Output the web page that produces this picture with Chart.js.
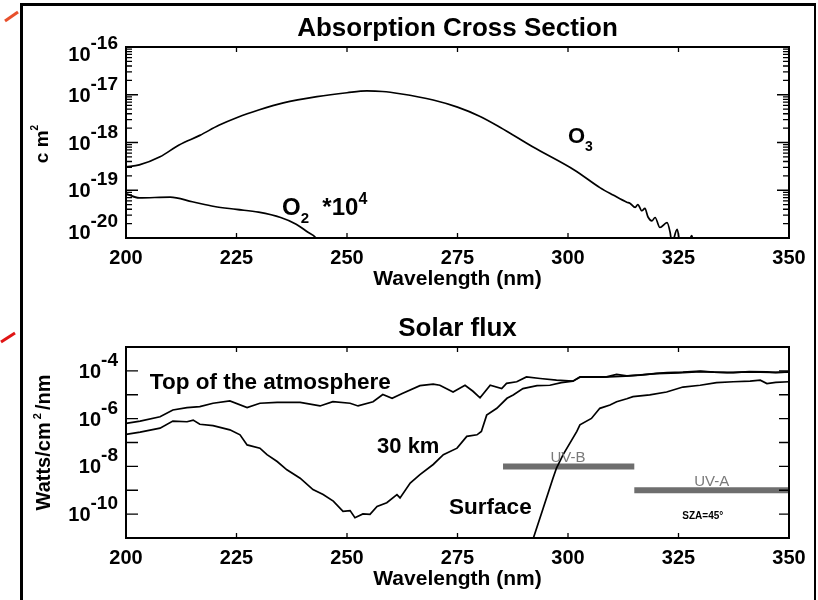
<!DOCTYPE html>
<html lang="en">
<head>
<meta charset="UTF-8">
<title>Absorption Cross Section / Solar flux</title>
<script src="https://cdn.jsdelivr.net/npm/chart.js@4.4.1/dist/chart.umd.min.js"></script>
<style>
    body {
        margin: 0;
        width: 818px;
        height: 600px;
        overflow: hidden;
        position: relative;
        background: #fff;
    }
    .panel {
        position: absolute;
        left: 0;
        width: 818px;
        height: 300px;
    }
    #topPanel { top: 0; }
    #bottomPanel { top: 300px; }
    /* black frame around the figure */
    .frame {
        position: absolute;
        left: 20px;
        top: 3px;
        width: 791px;
        height: 620px;
        border-left: 3px solid #000;
        border-top: 3px solid #000;
        border-right: 2px solid #000;
    }
    svg.marks { position: absolute; left: 0; top: 0; }
</style>
</head>
<body>
<div class="frame"></div>
<svg class="marks" width="30" height="360">
    <line x1="5" y1="21" x2="18" y2="12" stroke="#e8502c" stroke-width="3"/>
    <line x1="1" y1="342" x2="15" y2="333" stroke="#e01515" stroke-width="3"/>
</svg>
<div class="panel" id="topPanel"><canvas id="absChart" width="818" height="300"></canvas></div>
<div class="panel" id="bottomPanel"><canvas id="fluxChart" width="818" height="300"></canvas></div>

<script>
// ---- Absorption cross section (cm^2) ----
const o3Wavelength = [200, 203, 207.7, 212, 216.7, 221, 225.3, 230, 235.6, 243.2, 250, 254.5, 258, 262, 269.5,
    275, 280, 284.6, 292, 301.5, 307.3, 310.2, 313.3, 314.0, 315.2, 315.8, 316.7, 317.4, 318.1, 319.0,
    319.7, 320.8, 322.4, 323.1, 323.5, 324.7, 325.3, 326.5, 328.0, 328.8, 330];
const o3Cross = [3.09e-19, 3.39e-19, 5.01e-19, 8.9e-19, 1.41e-18, 2.29e-18, 3.39e-18, 4.79e-18, 6.76e-18, 9.12e-18,
    1.10e-17, 1.20e-17, 1.17e-17, 1.05e-17, 7.76e-18, 5.50e-18, 3.55e-18, 2.09e-18, 8.13e-19, 2.63e-19,
    1.12e-19, 7.94e-20, 5.62e-20, 5.37e-20, 4.37e-20, 5.01e-20, 3.72e-20, 4.17e-20, 2.75e-20, 2.29e-20,
    2.69e-20, 1.66e-20, 2.09e-20, 1.32e-20, 7.9e-21, 1.51e-20, 7.9e-21, 5.0e-21, 1.12e-20, 5.0e-21, 2.5e-21];

const o2Wavelength = [200, 203, 210, 215, 220, 225, 230, 235, 238.5, 241, 243, 244];
const o2Cross = [8.5e-20, 6.9e-20, 7.2e-20, 5.75e-20, 4.57e-20, 3.98e-20, 3.47e-20, 2.69e-20, 1.95e-20, 1.35e-20, 1.0e-20, 7e-21];

// ---- Solar flux (Watts/cm2/nm) ----
const toaWavelength = [200, 203.2, 207.7, 210.6, 213.8, 216.7, 219.7, 223.5, 227.4, 230.3,
    234.2, 239.4, 243.9, 246.8, 250.7, 252.5, 255.9, 258.1, 260.2, 262.5,
    266.5, 269.5, 271, 274, 276.7, 278.5, 280.1, 282.4, 285, 286.1,
    288.4, 290.6, 293.7, 297.4, 301.1, 302.7, 308.7, 311, 313.3, 316.3,
    320, 322.4, 326, 329.9, 333, 337.4, 341, 345, 347, 350];
const toaFlux = [6.3e-7, 7.9e-7, 1.2e-6, 2.3e-6, 2.9e-6, 3.2e-6, 4.4e-6, 5.5e-6, 2.9e-6, 4.4e-6,
    4.8e-6, 4.8e-6, 3.4e-6, 5.1e-6, 4.4e-6, 3.4e-6, 5.1e-6, 1.02e-5, 7.1e-6, 1.12e-5,
    2.4e-5, 2.8e-5, 2.5e-5, 1.3e-5, 2.5e-5, 1.4e-5, 7.4e-6, 2.5e-5, 1.8e-5, 3.0e-5,
    3.5e-5, 5.6e-5, 4.8e-5, 4.1e-5, 3.7e-5, 5.6e-5, 5.6e-5, 7.1e-5, 6.2e-5, 6.6e-5,
    7.9e-5, 8.5e-5, 8.9e-5, 9.8e-5, 8.9e-5, 8.5e-5, 9.3e-5, 9.1e-5, 8.5e-5, 9.1e-5];

const km30Wavelength = [200, 203.2, 207.7, 210.6, 213.8, 215.2, 216.7, 219.7, 223.5, 225.8,
    227.4, 230.3, 231.9, 234.2, 236.4, 239.4, 242.3, 244.6, 246.9, 249.1,
    250.7, 251.8, 253.6, 255.2, 256.8, 259, 261.3, 262, 264.3, 266.5,
    269.5, 271.8, 274.9, 277.1, 279.4, 280.4, 281.6, 283.9, 286.2, 287.6,
    289.8, 293, 295.9, 298.5, 301.1, 302.7, 308, 313, 320, 325,
    330, 336, 341, 346, 350];
const km30Flux = [2.2e-7, 2.7e-7, 4.0e-7, 7.9e-7, 7.4e-7, 8.7e-7, 5.8e-7, 5.1e-7, 3.4e-7, 2.1e-7,
    7.9e-8, 5.8e-8, 3.1e-8, 1.6e-8, 7.2e-9, 3.2e-9, 1.07e-9, 6.6e-10, 3.5e-10, 1.3e-10,
    1.4e-10, 7.1e-11, 1.02e-10, 9.8e-11, 2.1e-10, 3.0e-10, 6.6e-10, 4.8e-10, 2.0e-9, 4.5e-9,
    1.2e-8, 3.1e-8, 5.8e-8, 1.8e-7, 2.1e-7, 2.9e-7, 1.4e-6, 2.7e-6, 7.1e-6, 9.8e-6,
    1.8e-5, 2.4e-5, 2.5e-5, 3.2e-5, 3.7e-5, 5.4e-5, 5.5e-5, 6.0e-5, 7.6e-5, 8.3e-5,
    9.3e-5, 8.5e-5, 9.1e-5, 8.7e-5, 8.9e-5];

const sfcWavelength = [291.5, 292.1, 294.4, 296.6, 297.4, 298.9, 302, 302.7, 305.3, 307.2,
    309.5, 311, 313.3, 314.7, 318.5, 322.3, 326, 329.9, 333.6, 337.4,
    341.2, 343.5, 345, 347, 350];
const sfcFlux = [1e-12, 9.1e-12, 1.8e-10, 3.2e-9, 8.5e-9, 3.1e-8, 2.9e-7, 5.5e-7, 1.02e-6, 2.7e-6,
    3.7e-6, 5.1e-6, 6.8e-6, 8.3e-6, 9.8e-6, 1.3e-5, 2.1e-5, 2.5e-5, 3.2e-5, 3.5e-5,
    3.7e-5, 4.1e-5, 2.95e-5, 3.3e-5, 3.5e-5];

// UV bands (wavelength range, level drawn on the flux axis)
const uvbBand = [285.3, 315];
const uvbLevel = 1e-8;
const uvaBand = [315, 350];
const uvaLevel = 1e-9;

// ---- axis ticks ----
const wavelengthTicks = [225, 250, 275, 300, 325];
const absDecades = [1e-20, 1e-19, 1e-18, 1e-17, 1e-16];
const absExponents = ['-20', '-19', '-18', '-17', '-16'];
const fluxDecades = [1e-11, 1e-10, 1e-9, 1e-8, 1e-7, 1e-6, 1e-5, 1e-4, 1e-3];
const fluxLabelValues = [1e-10, 1e-8, 1e-6, 1e-4];
const fluxExponents = ['-10', '-8', '-6', '-4'];

const FONT = "'Liberation Sans', Arial, Helvetica, sans-serif";

function toPoints(xs, ys) {
    return xs.map((v, i) => ({ x: v, y: ys[i] }));
}

// draws a run of text pieces [text, size, dy, weight] one after the other
function richText(ctx, parts, x, y, align) {
    let w = 0;
    parts.forEach(p => {
        ctx.font = (p[3] || 'bold') + ' ' + p[1] + 'px ' + FONT;
        w += ctx.measureText(p[0]).width;
    });
    let cx = align === 'center' ? x - w / 2 : x;
    ctx.textAlign = 'left';
    ctx.textBaseline = 'alphabetic';
    parts.forEach(p => {
        ctx.font = (p[3] || 'bold') + ' ' + p[1] + 'px ' + FONT;
        ctx.fillText(p[0], cx, y + (p[2] || 0));
        cx += ctx.measureText(p[0]).width;
    });
}

// frame, inward ticks, y labels with exponents, in-plot notes
function makeDeco(cfg) {
    return {
        id: 'panelDeco',
        afterDatasetsDraw(chart) {
            const { ctx, chartArea: a, scales: { x, y } } = chart;
            ctx.save();
            ctx.strokeStyle = '#000';
            ctx.lineWidth = 2;
            ctx.strokeRect(a.left, a.top, a.right - a.left, a.bottom - a.top);

            ctx.lineWidth = 1.3;
            ctx.beginPath();
            wavelengthTicks.forEach(v => {
                const px = x.getPixelForValue(v);
                ctx.moveTo(px, a.bottom); ctx.lineTo(px, a.bottom - 5);
                ctx.moveTo(px, a.top); ctx.lineTo(px, a.top + 5);
            });
            cfg.yTicks.forEach(t => {
                const py = y.getPixelForValue(t[0]);
                ctx.moveTo(a.left, py); ctx.lineTo(a.left + t[1], py);
                ctx.moveTo(a.right, py); ctx.lineTo(a.right - t[2], py);
            });
            ctx.stroke();

            // y tick labels: 10 with raised exponent
            ctx.fillStyle = '#000';
            cfg.yLabelValues.forEach((v, i) => {
                let cy = y.getPixelForValue(v);
                cy = Math.min(Math.max(cy, a.top + 6.5), a.bottom - 6.5);
                const base = cy + 7;
                ctx.textAlign = 'right';
                ctx.textBaseline = 'alphabetic';
                ctx.font = 'bold 19px ' + FONT;
                const ew = ctx.measureText(cfg.yExponents[i]).width;
                ctx.fillText(cfg.yExponents[i], a.left - 8, base - 12);
                ctx.font = 'bold 20px ' + FONT;
                ctx.fillText('10', a.left - 8 - ew, base);
            });

            // rotated y axis title
            ctx.save();
            ctx.translate(cfg.yTitle.x, (a.top + a.bottom) / 2 + cfg.yTitle.dy);
            ctx.rotate(-Math.PI / 2);
            richText(ctx, cfg.yTitle.parts, 0, 0, 'center');
            ctx.restore();

            // notes inside the plot
            cfg.notes.forEach(n => {
                ctx.fillStyle = n.color || '#000';
                richText(ctx, n.parts, x.getPixelForValue(n.at[0]), y.getPixelForValue(n.at[1]), n.align);
            });
            ctx.restore();
        }
    };
}

function panelOptions(title, yMin, yMax) {
    return {
        responsive: false,
        animation: false,
        layout: { padding: { left: 0, right: 29, top: 0, bottom: 0 } },
        plugins: {
            legend: { display: false },
            tooltip: { enabled: false },
            title: {
                display: true,
                text: title,
                fullSize: false,
                color: '#000',
                font: { family: FONT, size: 26, weight: 'bold' },
                padding: { top: 13, bottom: 2.8 }
            }
        },
        scales: {
            x: {
                type: 'linear',
                min: 200,
                max: 350,
                grid: { display: false, drawTicks: false },
                border: { display: false },
                ticks: {
                    stepSize: 25,
                    padding: 8,
                    autoSkip: false,
                    maxRotation: 0,
                    color: '#000',
                    font: { family: FONT, size: 20, weight: 'bold' }
                },
                title: {
                    display: true,
                    text: 'Wavelength (nm)',
                    color: '#000',
                    font: { family: FONT, size: 21, weight: 'bold' },
                    padding: { top: 0, bottom: 8.5 }
                },
                afterFit: s => { s.height = 62; }
            },
            y: {
                type: 'logarithmic',
                min: yMin,
                max: yMax,
                grid: { display: false, drawTicks: false },
                border: { display: false },
                ticks: { display: false },
                afterFit: s => { s.width = 126; }
            }
        },
        elements: {
            point: { radius: 0 },
            line: { borderWidth: 1.7, borderColor: '#000', fill: false }
        }
    };
}

// ---- top panel ----
const absTicks = [];
absDecades.forEach((d, i) => {
    absTicks.push([d, 12, 12]);
    if (i < absDecades.length - 1) {
        for (let m = 2; m <= 9; m++) absTicks.push([d * m, 6, 6]);
    }
});

new Chart(document.getElementById('absChart'), {
    type: 'line',
    data: {
        datasets: [
            { label: 'O3', data: toPoints(o3Wavelength, o3Cross), cubicInterpolationMode: 'monotone', clip: 0 },
            { label: 'O2 *10^4', data: toPoints(o2Wavelength, o2Cross), cubicInterpolationMode: 'monotone', clip: 0 }
        ]
    },
    options: panelOptions('Absorption Cross Section', 1e-20, 1e-16),
    plugins: [makeDeco({
        yTicks: absTicks,
        yLabelValues: absDecades,
        yExponents: absExponents,
        yTitle: { x: 48, dy: 1.5, parts: [['c m', 19], ['2', 10, -10]] },
        notes: [
            { at: [300, 1e-18], parts: [['O', 22], ['3', 14, 8]] },
            { at: [235.3, 3e-20], parts: [['O', 24], ['2', 15, 8], ['  *10', 24], ['4', 16, -11]] }
        ]
    })]
});

// ---- bottom panel ----
const fluxTicks = fluxDecades.map(d => [d, 12, 10]);

new Chart(document.getElementById('fluxChart'), {
    type: 'line',
    data: {
        datasets: [
            { label: 'Top of the atmosphere', data: toPoints(toaWavelength, toaFlux), tension: 0, clip: 0, order: 0 },
            { label: '30 km', data: toPoints(km30Wavelength, km30Flux), tension: 0, clip: 0, order: 0 },
            { label: 'Surface', data: toPoints(sfcWavelength, sfcFlux), tension: 0, clip: 0, order: 0 },
            { label: 'UV-B', data: toPoints(uvbBand, [uvbLevel, uvbLevel]), borderColor: '#6e6e6e', borderWidth: 6, borderCapStyle: 'butt', order: 2 },
            { label: 'UV-A', data: toPoints(uvaBand, [uvaLevel, uvaLevel]), borderColor: '#6e6e6e', borderWidth: 6, borderCapStyle: 'butt', order: 2 }
        ]
    },
    options: panelOptions('Solar flux', 1e-11, 1e-3),
    plugins: [makeDeco({
        yTicks: fluxTicks,
        yLabelValues: fluxLabelValues,
        yExponents: fluxExponents,
        yTitle: { x: 50, dy: 0, parts: [['Watts/cm', 20], [' 2 ', 11, -9], ['/nm', 20]] },
        notes: [
            { at: [205.4, 1.78e-5], parts: [['Top of the atmosphere', 22.5]] },
            { at: [256.8, 3.5e-8], parts: [['30 km', 22]] },
            { at: [273.1, 1e-10], parts: [['Surface', 22.5]] },
            { at: [300, 1.47e-8], align: 'center', color: '#7a7a7a', parts: [['UV-B', 15, 0, 'normal']] },
            { at: [332.5, 1.47e-9], align: 'center', color: '#7a7a7a', parts: [['UV-A', 15, 0, 'normal']] },
            { at: [330.5, 6e-11], align: 'center', parts: [['SZA=45°', 10]] }
        ]
    })]
});
</script>
</body>
</html>
